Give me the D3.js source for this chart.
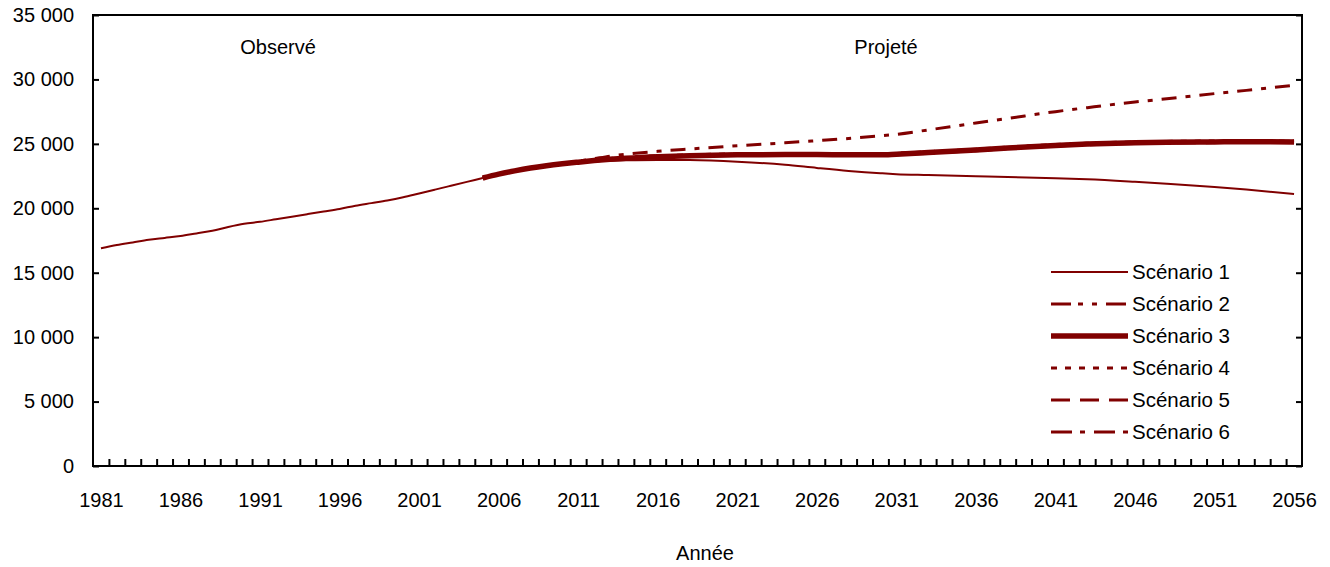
<!DOCTYPE html>
<html><head><meta charset="utf-8">
<script src="https://cdn.jsdelivr.net/npm/d3@7"></script>
<style>
html,body{margin:0;padding:0;background:#fff;}
text{font-family:"Liberation Sans",Arial,sans-serif;fill:#000;}
</style></head>
<body><svg id="c" width="1330" height="567"></svg>
<script>
// ---- data ----
const obsYears = [1981,1982,1983,1984,1985,1986,1987,1988,1989,1990,1991,1992,1993,1994,1995,1996,1997,1998,1999,2000,2001,2002,2003,2004,2005];
const observed = [16900,17150,17350,17550,17700,17850,18050,18250,18550,18800,18950,19150,19350,19550,19750,19950,20200,20400,20600,20850,21150,21450,21750,22050,22350];
const projYears = [2005,2006,2007,2008,2009,2010,2011,2012,2013,2014,2016,2018,2021,2024,2026,2028,2030,2031,2033,2036,2038,2041,2043,2046,2048,2051,2053,2056];
const scenario1 = [22350,22650,22900,23120,23300,23450,23560,23640,23690,23720,23750,23740,23620,23380,23130,22900,22720,22650,22580,22480,22420,22340,22250,22050,21900,21650,21450,21100];
const scenario2 = [22350,22650,22900,23130,23310,23470,23600,23730,23830,23910,24040,24120,24190,24210,24210,24190,24190,24240,24360,24560,24720,24920,25020,25120,25160,25190,25210,25190];
const scenario3 = [22350,22650,22900,23120,23300,23450,23580,23700,23800,23880,24000,24080,24150,24170,24170,24150,24150,24200,24320,24520,24680,24880,24980,25080,25120,25150,25170,25150];
const scenario4 = [22350,22650,22900,23130,23320,23480,23620,23750,23860,23940,24070,24150,24220,24240,24240,24220,24220,24270,24390,24590,24750,24950,25050,25150,25190,25220,25240,25220];
const scenario5 = [22350,22650,22900,23110,23290,23430,23550,23660,23760,23840,23950,24030,24100,24120,24120,24100,24100,24150,24270,24470,24630,24830,24930,25030,25070,25100,25120,25100];
const scenario6 = [22350,22650,22900,23120,23300,23470,23650,23850,24050,24200,24420,24600,24850,25080,25250,25420,25620,25740,26080,26620,26970,27500,27810,28250,28500,28900,29150,29550];
const seriesNames = ["Scénario 1","Scénario 2","Scénario 3","Scénario 4","Scénario 5","Scénario 6"];
const yTicks = [0,5000,10000,15000,20000,25000,30000,35000];
const xLabelYears = [1981,1986,1991,1996,2001,2006,2011,2016,2021,2026,2031,2036,2041,2046,2051,2056];
const annotations = ["Observé","Projeté"];
const xTitle = "Année";

// ---- styles ----
const color = "#800000";
const styles = [
  {w:2, dash:null, ldash:null},
  {w:3, dash:"15,9,5,9,5,9", ldash:"20,7,5,9,5,9"},
  {w:5.5, dash:null, ldash:null},
  {w:3, dash:"6,8", ldash:"6,8"},
  {w:3, dash:"19,10", ldash:"19,10"},
  {w:3, dash:"15,9,5,9", ldash:"21,8,5,9"}
];
const FS = 20;

const svg = d3.select("#c");
const L=93, R=1302, T=15, B=466;
const x = d3.scaleLinear().domain([1980.5, 2056.5]).range([L, R]);
const y = d3.scaleLinear().domain([0, 35000]).range([B, T]);
const fmt = d3.formatLocale({decimal:",", thousands:" ", grouping:[3], currency:["",""]}).format(",d");

// lines
const line = d3.line().x(d=>x(d[0])).y(d=>y(d[1])).curve(d3.curveMonotoneX);
const g = svg.append("g");
g.append("path").datum(obsYears.map((yr,i)=>[yr,observed[i]]))
  .attr("d", line).attr("fill","none").attr("stroke",color).attr("stroke-width",2);

const series = [scenario1,scenario2,scenario3,scenario4,scenario5,scenario6];
const order = [0,1,3,4,5,2];
order.forEach(k=>{
  const p = g.append("path").datum(projYears.map((yr,i)=>[yr,series[k][i]]))
    .attr("d", line).attr("fill","none").attr("stroke",color)
    .attr("stroke-width",styles[k].w);
  if(styles[k].dash) p.attr("stroke-dasharray",styles[k].dash);
});

// frame
svg.append("rect").attr("x",L).attr("y",T).attr("width",R-L).attr("height",B-T)
  .attr("fill","none").attr("stroke","#000").attr("stroke-width",2);

// y axis left
const yAxis = svg.append("g").attr("transform",`translate(${L},0)`)
  .call(d3.axisLeft(y).tickValues(yTicks).tickSize(-6).tickPadding(19).tickFormat(fmt));
yAxis.select(".domain").remove();
yAxis.selectAll("line").attr("stroke","#000").attr("stroke-width",2);
yAxis.selectAll("text").attr("font-size",FS).attr("font-family","Liberation Sans, Arial, sans-serif").attr("fill","#000");

// y axis right
const yAxisR = svg.append("g").attr("transform",`translate(${R},0)`)
  .call(d3.axisRight(y).tickValues(yTicks).tickSize(-6).tickFormat(""));
yAxisR.select(".domain").remove();
yAxisR.selectAll("line").attr("stroke","#000").attr("stroke-width",2);

// x axis ticks at year boundaries
const bounds = d3.range(1981.5, 2056, 1);
const xTickAxis = svg.append("g").attr("transform",`translate(0,${B})`)
  .call(d3.axisBottom(x).tickValues(bounds).tickSize(-7).tickFormat(""));
xTickAxis.select(".domain").remove();
xTickAxis.selectAll("line").attr("stroke","#000").attr("stroke-width",2);

// x labels
const xLab = svg.append("g").attr("transform",`translate(0,${B})`)
  .call(d3.axisBottom(x).tickValues(xLabelYears).tickSize(0).tickPadding(27).tickFormat(d3.format("d")));
xLab.select(".domain").remove();
xLab.selectAll("text").attr("font-size",FS).attr("font-family","Liberation Sans, Arial, sans-serif").attr("fill","#000");

// annotations
svg.append("text").attr("x",278).attr("y",54).attr("text-anchor","middle").attr("font-size",FS).text(annotations[0]);
svg.append("text").attr("x",886).attr("y",54).attr("text-anchor","middle").attr("font-size",FS).text(annotations[1]);
svg.append("text").attr("x",705).attr("y",560).attr("text-anchor","middle").attr("font-size",FS).text(xTitle);

// legend
const lg = svg.append("g");
seriesNames.forEach((name,i)=>{
  const yy = 272 + i*32;
  const l = lg.append("line").attr("x1",1051).attr("x2",1128).attr("y1",yy).attr("y2",yy)
    .attr("stroke",color).attr("stroke-width", styles[i].w);
  if(styles[i].ldash) l.attr("stroke-dasharray",styles[i].ldash);
  lg.append("text").attr("x",1132).attr("y",yy).attr("dy","0.35em").attr("font-size",20.5).text(name);
});
</script></body></html>
